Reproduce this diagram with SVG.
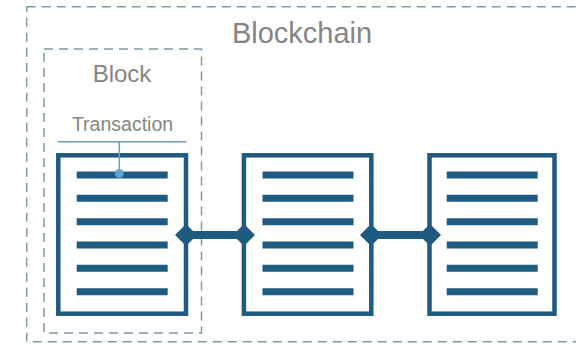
<svg xmlns="http://www.w3.org/2000/svg" width="576" height="345" viewBox="0 0 576 345">
  <defs>
    <style>
      .frame { fill: none; stroke: #7d9ba6; stroke-width: 1.5; stroke-dasharray: 9 6; }
      .label { font-family: "Liberation Sans", Arial, sans-serif; fill: #858585; text-anchor: middle; }
      .blk { fill: #ffffff; stroke: #1f5a80; stroke-width: 4.5; }
      .row { stroke: #1f5a80; stroke-width: 7; }
      .link { stroke: #1f5a80; stroke-width: 8; }
      .knot { fill: #1f5a80; }
    </style>
    <g id="rows">
      <line class="row" x1="0" y1="175" x2="91" y2="175"/>
      <line class="row" x1="0" y1="198.3" x2="91" y2="198.3"/>
      <line class="row" x1="0" y1="221.7" x2="91" y2="221.7"/>
      <line class="row" x1="0" y1="245" x2="91" y2="245"/>
      <line class="row" x1="0" y1="268.3" x2="91" y2="268.3"/>
      <line class="row" x1="0" y1="291.7" x2="91" y2="291.7"/>
    </g>
    <path id="knot" class="knot" d="M0,-11 L11,0 L0,11 L-11,0 Z"/>
  </defs>
  <rect width="576" height="345" fill="#ffffff"/>

  <g id="blockchain">
    <rect class="frame" x="26.7" y="6.7" width="560" height="335"/>
    <text class="label" x="302" y="42.7" font-size="29">Blockchain</text>
  </g>

  <g id="block">
    <rect class="frame" x="44" y="49" width="157.5" height="284"/>
    <text class="label" x="122" y="81.7" font-size="24">Block</text>
  </g>

  <g id="transaction">
    <text class="label" x="122.5" y="130.7" font-size="19.5">Transaction</text>
    <line x1="58" y1="141.7" x2="186.5" y2="141.7" stroke="#6e9db4" stroke-width="1.5"/>
  </g>

  <g id="block1">
    <rect class="blk" x="58.3" y="155.3" width="127.7" height="158.4"/>
    <use href="#rows" x="76.7"/>
  </g>

  <g id="block2">
    <rect class="blk" x="243.9" y="155.3" width="127.4" height="158.4"/>
    <use href="#rows" x="262.5"/>
  </g>

  <g id="block3">
    <rect class="blk" x="429.5" y="155.3" width="125" height="158.4"/>
    <use href="#rows" x="446.7"/>
  </g>

  <g id="connectors">
    <line x1="119.3" y1="141.7" x2="119.3" y2="173" stroke="#6e9db4" stroke-width="1.5"/>
    <circle cx="119.3" cy="173.5" r="4.5" fill="#5ba3d6"/>
    <line class="link" x1="186" y1="235" x2="244" y2="235"/>
    <line class="link" x1="371" y1="235" x2="430" y2="235"/>
    <use href="#knot" x="186" y="235"/>
    <use href="#knot" x="244" y="235"/>
    <use href="#knot" x="371" y="235"/>
    <use href="#knot" x="430" y="235"/>
  </g>
</svg>
